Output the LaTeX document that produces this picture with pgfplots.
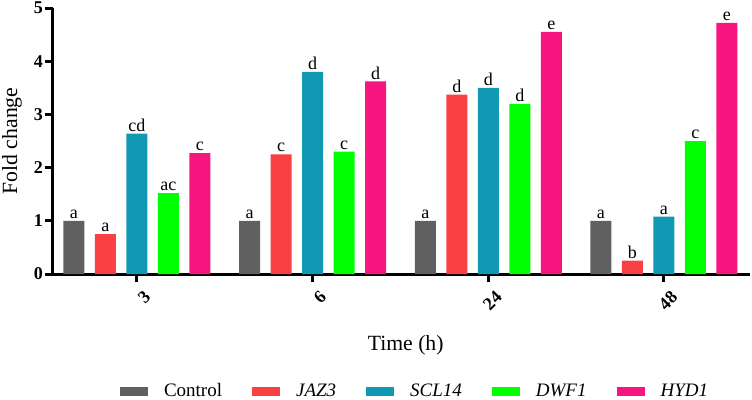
\documentclass[border=0pt]{standalone}
\usepackage{pgfplots}
\pgfplotsset{compat=1.18}
\usepackage{fontspec}
\setmainfont{Liberation Serif}
\definecolor{cgray}{HTML}{606060}
\definecolor{cred}{HTML}{F94144}
\definecolor{cblue}{HTML}{1199B4}
\definecolor{cgreen}{HTML}{00FF00}
\definecolor{cpink}{HTML}{F7167F}
\begin{document}
\begin{tikzpicture}
\begin{axis}[
  at={(0,0)}, anchor=south west,
  scale only axis, width=697bp, height=266bp,
  xmin=-0.478, xmax=3.49, ymin=0, ymax=5,
  axis x line*=bottom, axis y line*=left,
  axis line style={line width=3bp},
  tick style={line width=3bp, black},
  major tick length=8bp,
  tick align=outside,
  ytick={0,1,2,3,4,5},
  xtick={0,1,2,3}, xticklabels={3,6,24,48},
  /pgf/number format/assume math mode=true,
  yticklabel style={font=\fontsize{18bp}{20bp}\selectfont\rmfamily\bfseries, inner sep=2bp},
  xticklabel style={font=\fontsize{18bp}{20bp}\selectfont\rmfamily\bfseries, rotate=45, anchor=east, inner sep=1bp, yshift=-16bp},
  ylabel={Fold change},
  ylabel style={at={(axis description cs:-0.0588,0.5)}, rotate=0, anchor=center, font=\fontsize{21.7bp}{24bp}\selectfont\rmfamily},
  xlabel={Time (h)},
  xlabel style={at={(axis description cs:0.506,-0.267)}, anchor=center, font=\fontsize{21.7bp}{24bp}\selectfont\rmfamily},
  ybar=10.5bp, bar width=21bp,
  clip=false,
  nodes near coords,
  point meta=explicit symbolic,
  every node near coord/.append style={font=\fontsize{18bp}{20bp}\selectfont\rmfamily, text=black, anchor=south, inner sep=2bp},
  legend columns=5,
  legend style={at={(axis description cs:0.518,-0.44)}, anchor=center, draw=none, fill=none,
    font=\fontsize{19bp}{22bp}\selectfont\rmfamily,
    nodes={inner xsep=0pt, inner ysep=1bp},
    /tikz/every odd column/.append style={column sep=16bp},
    /tikz/every even column/.append style={column sep=30bp}},
]
\addplot[fill=cgray, draw=none, legend image code/.code={\fill[cgray] (0bp,-4.5bp) rectangle (28bp,4.5bp);}]
  coordinates {(0,1.00) [a] (1,1.00) [a] (2,1.00) [a] (3,1.00) [a]};
\addplot[fill=cred, draw=none, legend image code/.code={\fill[cred] (0bp,-4.5bp) rectangle (28bp,4.5bp);}]
  coordinates {(0,0.75) [a] (1,2.25) [c] (2,3.37) [d] (3,0.25) [b]};
\addplot[fill=cblue, draw=none, legend image code/.code={\fill[cblue] (0bp,-4.5bp) rectangle (28bp,4.5bp);}]
  coordinates {(0,2.64) [cd] (1,3.80) [d] (2,3.50) [d] (3,1.08) [a]};
\addplot[fill=cgreen, draw=none, legend image code/.code={\fill[cgreen] (0bp,-4.5bp) rectangle (28bp,4.5bp);}]
  coordinates {(0,1.52) [ac] (1,2.30) [c] (2,3.20) [d] (3,2.50) [c]};
\addplot[fill=cpink, draw=none, legend image code/.code={\fill[cpink] (0bp,-4.5bp) rectangle (28bp,4.5bp);}]
  coordinates {(0,2.27) [c] (1,3.62) [d] (2,4.55) [e] (3,4.72) [e]};
\legend{Control, \textit{JAZ3}, \textit{SCL14}, \textit{DWF1}, \textit{HYD1}}
\end{axis}
\pgfresetboundingbox
\path[use as bounding box] (-53bp,-126bp) rectangle (699bp,274bp);
\end{tikzpicture}
\end{document}
